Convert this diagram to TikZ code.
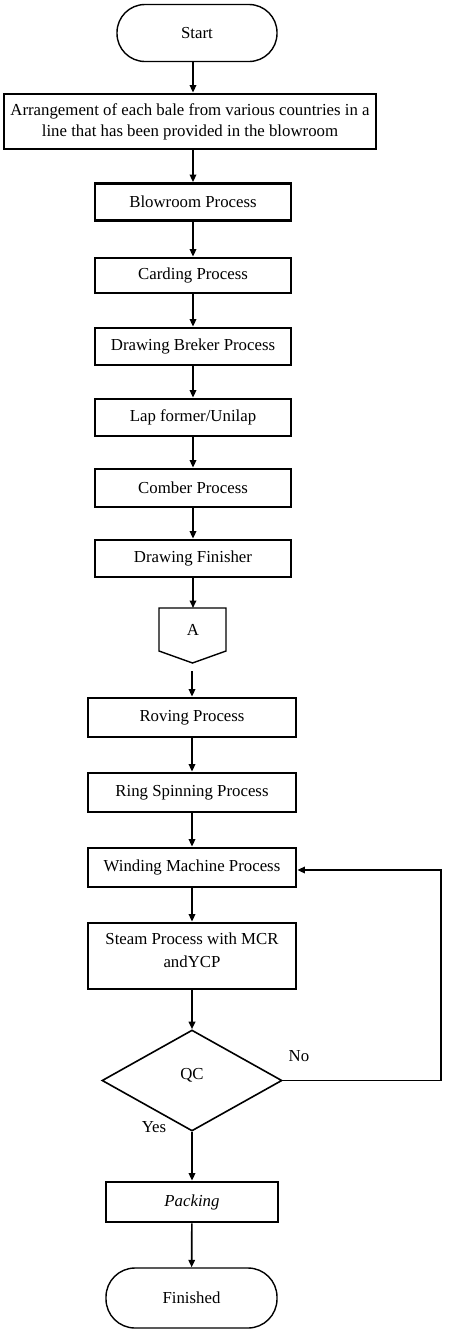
\documentclass[tikz,border=0pt]{standalone}
\usepackage{fontspec}
\setmainfont{Liberation Serif}
\usetikzlibrary{shapes.geometric,arrows.meta}

\tikzset{
  procbox/.style={draw, line width=2.8pt, minimum width=196pt, minimum height=37pt, align=center, inner sep=2pt},
  termbox/.style={draw, line width=1.4pt, rounded corners=28pt, minimum width=160pt, minimum height=57pt},
  decbox/.style={draw, diamond, line width=1.6pt, minimum width=180pt, minimum height=101pt, inner sep=0pt},
  flow/.style={line width=1.7pt, -{Triangle[width=6.5pt,length=7.5pt]}},
}

\begin{document}
\begin{tikzpicture}[x=1pt, y=-1pt, font=\fontsize{16.8}{21}\selectfont]
		\useasboundingbox (0,0) rectangle (460,1336);
		% terminals and process boxes
		\node[termbox] (start) at (197,33) {Start};
		\node[procbox, minimum width=372pt, minimum height=55pt] (arr) at (190,121.5)
		{Arrangement of each bale from various countries in a\\line that has been provided in the blowroom};
		\node[procbox] (blow) at (193,202) {Blowroom Process};
		\node[procbox, minimum height=35pt] (card) at (193,275.5) {Carding Process};
		\node[procbox] (dbrk) at (193,346.5) {Drawing Breker Process};
		\node[procbox] (lap) at (193,417.5) {Lap former/Unilap};
		\node[procbox, minimum height=38pt] (comb) at (193,488) {Comber Process};
		\node[procbox] (dfin) at (193,558.5) {Drawing Finisher};
		
		% off-page connector A
		\coordinate (A1) at (159,608);
		\coordinate (A2) at (226,608);
		\coordinate (A3) at (226,651);
		\coordinate (A4) at (192.5,663);
		\coordinate (A5) at (159,651);
		\coordinate (A6) at (192,671);
		\draw[line width=1.4pt] (A1) -- (A2) -- (A3) -- (A4) -- (A5) -- cycle;
		\node (A) at (193,630) {A};
		
		\node[procbox, minimum width=208pt, minimum height=39pt] (rov) at (192,717.5) {Roving Process};
		\node[procbox, minimum width=208pt, minimum height=39pt] (ring) at (192,792.5) {Ring Spinning Process};
		\node[procbox, minimum width=208pt, minimum height=39pt] (wind) at (192,867.5) {Winding Machine Process};
		\node[procbox, minimum width=208pt, minimum height=66pt] (steam) at (192,956) {};
		\node[align=center, font=\fontsize{16.8}{23}\selectfont] (steamtxt) at (192,950) {Steam Process with MCR\\andYCP};
		
		% quality check
		\node[decbox] (qc) at (192,1080.5) {};
		\node (qctxt) at (192,1075) {QC};
		\node (no) at (299,1056) {No};
		\node (yes) at (154,1127) {Yes};
		\coordinate (loop) at (441,870);
		
		\node[procbox, minimum width=172pt, minimum height=40pt] (pack) at (192,1202) {\itshape Packing};
		\node[termbox, minimum width=171pt, minimum height=60pt, rounded corners=29pt] (fin) at (191.5,1298) {Finished};
		
		% arrows
		\draw[flow] (start.south -| blow) -- (arr.north -| blow);
		\draw[flow] (arr.south -| blow) -- (blow.north);
		\draw[flow] (blow) -- (card);
		\draw[flow] (card) -- (dbrk);
		\draw[flow] (dbrk) -- (lap);
		\draw[flow] (lap) -- (comb);
		\draw[flow] (comb) -- (dfin);
		\draw[flow] (dfin.south) -- (dfin.south |- A1);
		\draw[flow] (A6) -- (rov.north);
		\draw[flow] (rov) -- (ring);
		\draw[flow] (ring) -- (wind);
		\draw[flow] (wind) -- (steam);
		\draw[flow] (steam) -- (qc.north);
		\draw[flow] (qc.east) -| (loop) -- (wind.east |- loop);
		\draw[flow] (qc.south) -- (pack.north);
		\draw[flow] (pack) -- (fin);
		\end{tikzpicture}
\end{document}
